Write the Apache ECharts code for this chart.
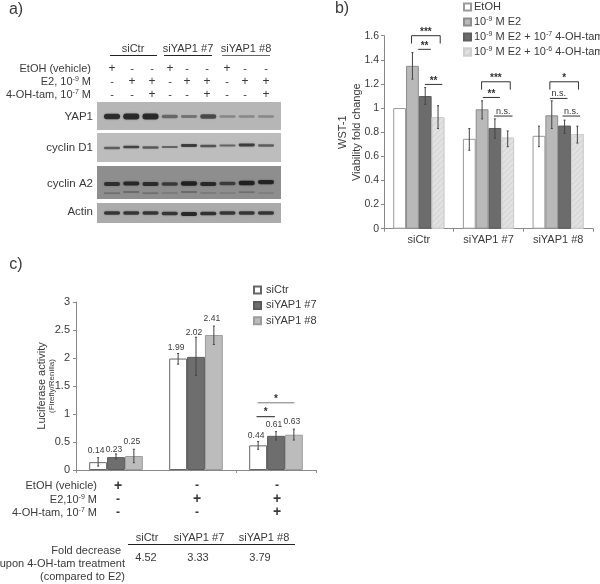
<!DOCTYPE html>
<html><head><meta charset="utf-8">
<style>html,body{margin:0;padding:0;background:#fff}#c{width:600px;height:584px}</style>
<script src="https://cdn.jsdelivr.net/npm/echarts@6/dist/echarts.min.js"></script>
</head><body><div id="c"></div>
<script>
// ---- Panel a data ----
const laneGroups = ['siCtr', 'siYAP1 #7', 'siYAP1 #8'];
const treatEtOH = ['+','-','-','+','-','-','+','-','-'];
const treatE2   = ['-','+','+','-','+','+','-','+','+'];
const treatTam  = ['-','-','+','-','-','+','-','-','+'];
const yap1Bands    = [0.95,1,1,0.42,0.32,0.68,0.18,0.16,0.16];
const cyclinD1Bands= [0.6,0.85,0.65,0.55,0.9,0.7,0.55,0.9,0.6];
const cyclinA2Bands= [0.8,0.9,0.85,0.7,1,0.9,0.65,1,0.95];
const cyclinA2Lower= [0.3,0.35,0.3,0.2,0.35,0.2,0.15,0.3,0.12];
const actinBands   = [0.85,0.85,0.85,0.85,1,0.9,0.85,0.85,0.85];
// ---- Panel b data ----
const bCategories = ['siCtr','siYAP1 #7','siYAP1 #8'];
const bEtOH = [1,0.745,0.77];
const bE2   = [1.35,0.99,0.94];
const bTam7 = [1.10,0.835,0.855];
const bTam6 = [0.925,0.755,0.785];
const bLow  = [[null,0.65,0.68],[1.24,0.91,0.83],[1.03,0.75,0.79],[0.83,0.68,0.71]];
const bHigh = [[null,0.83,0.85],[1.46,1.06,1.06],[1.17,0.91,0.90],[1.02,0.81,0.85]];
// category, from bar, to bar, height, bracket drop, label
const bSignif = [
 [0,1.43,3.67,1.6,0.065,'***'],[0,1.95,2.94,1.487,0,'**'],[0,2.47,3.83,1.196,0,'**'],
 [1,1.46,3.70,1.218,0.065,'***'],[1,1.56,2.89,1.088,0,'**'],[1,2.42,3.88,0.934,0,'n.s.'],
 [2,1.35,3.59,1.218,0.065,'*'],[2,1.35,2.73,1.08,0,'n.s.'],[2,2.34,3.72,0.934,0,'n.s.']];
// ---- Panel c data ----
const cCategories = ['EtOH','E2','E2 + 4-OH-tam'];
const cCtr = [0.14,1.99,0.44];
const cY7  = [0.23,2.02,0.61];
const cY8  = [0.25,2.41,0.63];
const cLow  = [[0.07,1.89,0.37],[0.196,1.69,0.535],[0.13,2.24,0.535]];
const cHigh = [[0.22,2.08,0.51],[0.286,2.37,0.685],[0.37,2.57,0.73]];
const cLabelY=[[0.34,2.18,0.61],[0.37,2.45,0.81],[0.51,2.71,0.87]];
const cSignif = [[2,0.41,1.44,0.952,'*','#222'],[2,0.47,2.53,1.2,'*','#777']];
const cRowEtOH = ['+','-','-'];
const cRowE2   = ['-','+','+'];
const cRowTam  = ['-','-','+'];
const foldHeaders = ['siCtr','siYAP1 #7','siYAP1 #8'];
const foldValues  = ['4.52','3.33','3.79'];

const FONT = '"Liberation Sans", Arial, sans-serif';
const TXT = '#3a3a3a';
const chart = echarts.init(document.getElementById('c'), null, {renderer:'canvas'});

function barGeom(api, cat, pos, n, gap){
  const cw = api.size([1,0])[0], group = cw*(1-gap), bw = group/n;
  return api.coord([cat,0])[0] - group/2 + pos*bw;
}
function errorSeries(low, high, n, gap, xi, yi){
  const rows=[];
  low.forEach((arr,s)=>arr.forEach((v,c)=>{ if(v!=null) rows.push([c,s,v,high[s][c]]); }));
  return {type:'custom',xAxisIndex:xi,yAxisIndex:yi,z:5,silent:true,data:rows,encode:{x:0,y:3},
    renderItem(p,api){
      const c=api.value(0),s=api.value(1);
      const x=barGeom(api,c,s+0.5,n,gap);
      const y1=api.coord([c,api.value(2)])[1],y2=api.coord([c,api.value(3)])[1];
      const st={stroke:'#444',lineWidth:1};
      return {type:'group',children:[
        {type:'line',shape:{x1:x,y1:y1,x2:x,y2:y2},style:st},
        {type:'line',shape:{x1:x-1,y1:y1,x2:x+1,y2:y1},style:st},
        {type:'line',shape:{x1:x-1,y1:y2,x2:x+1,y2:y2},style:st}]};
    }};
}
const blotRows = [
  {bands:yap1Bands, y:14.5, off:[0,0,0,0,0,0,0,0,0], base:1.6, k:4.2, a:0.85},
  {bands:cyclinD1Bands, y:45, off:[1,0,0.5,0,-1.5,-1,-1.5,-2,-1.5], base:1.2, k:1.8, a:0.78},
  {bands:cyclinA2Bands, y:82, off:[0,-0.5,0,0,-0.5,0,-0.5,-1,-2], base:1.4, k:3, a:0.9},
  {bands:cyclinA2Lower, y:91, off:[0,-1,0,0,-1,0,0,-1,0], base:0.8, k:1.5, a:0.75},
  {bands:actinBands, y:111, off:[0,0,0,0.5,1,0.5,0,0,0], base:1.4, k:2.6, a:0.85}
];
const blotPanels=[[0,28,'#b6b6b6'],[31,60,'#bdbdbd'],[64,97,'#8e8e8e'],[101,121,'#ababab']];
const blotData=[];
blotRows.forEach((r,ri)=>r.bands.forEach((v,l)=>blotData.push([l,r.y+r.off[l],v,ri])));

function sup(a,b,c){return a+'{s|'+b+'}'+c;}
const supRich={s:{fontSize:7,fontFamily:FONT,fill:TXT,color:TXT,padding:[0,0,5,0]}};
function T(text,x,y,o){return {type:'text',x,y,silent:true,style:Object.assign({text,fontFamily:FONT,fontSize:11,fill:TXT,
   textAlign:'center',textVerticalAlign:'middle',rich:supRich},o||{})};}
function L(x1,x2,y,c){return {type:'line',silent:true,shape:{x1,y1:y,x2,y2:y},style:{stroke:c||'#222',lineWidth:1}};}

const g=[];
g.push(T('a)',16,10,{fontSize:16}),T('b)',342,9,{fontSize:16}),T('c)',16,265,{fontSize:16}));
[[133,110,157,'#222'],[188,164,212,'#222'],[246,222,270,'#666']].forEach((h,i)=>{
  g.push(T(laneGroups[i],h[0],49,{fontSize:11}),L(h[1],h[2],55.5,h[3]));});
g.push(T('EtOH (vehicle)',91,69,{textAlign:'right'}),
       T(sup('E2, 10','-9',' M'),91,82,{textAlign:'right'}),
       T(sup('4-OH-tam, 10','-7',' M'),91,95,{textAlign:'right'}));
const laneX=[112,132,152,170,187,207,227,245,266];
[[treatEtOH,69],[treatE2,82],[treatTam,95]].forEach(r=>r[0].forEach((m,i)=>g.push(T(m,laneX[i],r[1]-0.5,{fontSize:m==='+'?12:11}))));
[['YAP1',117],['cyclin D1',148],['cyclin A2',184],['Actin',212]].forEach(r=>g.push(T(r[0],93,r[1],{textAlign:'right',fontSize:11.5})));
g.push(T('EtOH (vehicle)',97,486,{textAlign:'right'}),
       T(sup('E2,10','-9',' M'),97,499.5,{textAlign:'right'}),
       T(sup('4-OH-tam, 10','-7',' M'),97,513,{textAlign:'right'}));
[[cRowEtOH,486],[cRowE2,499.5],[cRowTam,512.5]].forEach(r=>r[0].forEach((m,i)=>g.push(T(m,[118,197,277][i],r[1],{fontSize:m==='+'?14:12,fontWeight:'bold'}))));
foldHeaders.forEach((t,i)=>g.push(T(t,[147,199,264][i],538)));
g.push(L(128,295,544.5));
foldValues.forEach((t,i)=>g.push(T(t,[146,198,260][i],558)));
g.push(T('Fold decrease',121,551,{textAlign:'right'}),T('upon 4-OH-tam treatment',125,564,{textAlign:'right'}),T('(compared to E2)',125,577,{textAlign:'right'}));

const axisLine={show:true,lineStyle:{color:'#8a8a8a',width:1}};
function bar(name,data,xi,yi,fill,border,gap){
  return {type:'bar',name,data,xAxisIndex:xi,yAxisIndex:yi,barGap:0,barCategoryGap:gap,
    itemStyle:{color:fill,borderColor:border,borderWidth:1},silent:true};
}
const hatch={symbol:'rect',symbolSize:1,dashArrayX:[1,0],dashArrayY:[1.5,2],rotation:-Math.PI/4,color:'rgba(255,255,255,0.25)'};
const bNames=['EtOH','10-9 M E2','10-9 M E2 + 10-7 4-OH-tam','10-9 M E2 + 10-6 4-OH-tam'];
const bFmt={'EtOH':'EtOH','10-9 M E2':'10{s|-9} M E2','10-9 M E2 + 10-7 4-OH-tam':'10{s|-9} M E2 + 10{s|-7} 4-OH-tam','10-9 M E2 + 10-6 4-OH-tam':'10{s|-9} M E2 + 10{s|-6} 4-OH-tam'};

const option={
 animation:false,backgroundColor:'#fff',textStyle:{fontFamily:FONT,color:TXT},
 grid:[
  {left:97,top:102,width:184,height:121},
  {left:384,top:35.7,width:209,height:193},
  {left:76,top:302,width:240,height:168}],
 xAxis:[
  {gridIndex:0,type:'value',min:-0.78,max:8.78,show:false},
  {gridIndex:1,type:'category',data:bCategories,axisLine,axisTick:{show:true,lineStyle:{color:'#8a8a8a'},length:3},
   axisLabel:{color:TXT,fontSize:11,margin:6,fontFamily:FONT}},
  {gridIndex:2,type:'category',data:cCategories,axisLine,axisTick:{show:true,lineStyle:{color:'#8a8a8a'},length:3},axisLabel:{show:false}}],
 yAxis:[
  {gridIndex:0,type:'value',min:0,max:121,inverse:true,show:false},
  {gridIndex:1,type:'value',min:0,max:1.6,interval:0.2,splitLine:{show:false},axisLine,
   axisTick:{show:true,length:3,lineStyle:{color:'#8a8a8a'}},axisLabel:{color:TXT,fontSize:10.5,margin:5,fontFamily:FONT},
   name:'WST-1\nViability fold change',nameLocation:'middle',nameGap:20,nameMoveOverlap:false,nameTextStyle:{color:TXT,fontSize:11,lineHeight:14,fontFamily:FONT}},
  {gridIndex:2,type:'value',min:0,max:3,interval:0.5,splitLine:{show:false},axisLine,
   axisTick:{show:true,length:3,lineStyle:{color:'#8a8a8a'}},axisLabel:{color:TXT,fontSize:11,margin:6,fontFamily:FONT},
   name:'{a|Luciferase activity}\n{b|(Firefly/Renilla)}',nameLocation:'middle',nameGap:19,nameMoveOverlap:false,
   nameTextStyle:{color:TXT,fontFamily:FONT,rich:{a:{fontSize:11,color:TXT,lineHeight:11,fontFamily:FONT},b:{fontSize:8,color:TXT,lineHeight:10,fontFamily:FONT}}}}],
 legend:[
  {data:bNames.map(name=>({name,icon:'rect'})),orient:'vertical',left:463,top:1,itemWidth:7,itemHeight:7,itemGap:3,padding:0,selectedMode:false,
   formatter:n=>bFmt[n],textStyle:{fontSize:11,color:TXT,fontFamily:FONT,lineHeight:12,padding:[0,0,0,-2],rich:{s:{fontSize:7,color:TXT,padding:[0,0,5,0],fontFamily:FONT}}}},
  {data:['siCtr','siYAP1 #7','siYAP1 #8'].map(name=>({name,icon:'rect'})),orient:'vertical',left:253,top:284,itemWidth:7,itemHeight:7,itemGap:3.4,padding:0,selectedMode:false,
   textStyle:{fontSize:11,color:TXT,fontFamily:FONT,lineHeight:12}}],
 graphic:{elements:g},
 series:[
  {type:'custom',xAxisIndex:0,yAxisIndex:0,silent:true,z:2,data:blotData,encode:{x:0,y:1},
   renderItem(p,api){
     const l=api.value(0),yv=api.value(1),v=api.value(2),r=blotRows[api.value(3)];
     const c=api.coord([l,yv]);
     const xs=api.size([1,0])[0];
     const h=r.base+r.k*v;
     const w=xs*0.84;
     return {type:'rect',shape:{x:c[0]-w/2,y:c[1]-h/2,width:w,height:h,r:h/2},
       style:{fill:'rgba(25,25,25,'+(r.a*(0.2+0.8*v)).toFixed(2)+')',shadowBlur:2,shadowColor:'rgba(30,30,30,'+(0.45*v).toFixed(2)+')'}};
   }},
  {type:'custom',xAxisIndex:0,yAxisIndex:0,silent:true,z:1,data:blotPanels,encode:{y:[0,1]},
   renderItem(p,api){
     const i=p.dataIndex,rc=p.coordSys;
     const y1=api.coord([0,api.value(0)])[1],y2=api.coord([0,api.value(1)])[1];
     return {type:'rect',shape:{x:rc.x,y:y1,width:rc.width,height:y2-y1},style:{fill:blotPanels[i][2]}};
   }},
  bar(bNames[0],bEtOH,1,1,'#ffffff','#9a9a9a','26.5%'),
  bar(bNames[1],bE2,1,1,'#b9b9b9','#8d8d8d','26.5%'),
  bar(bNames[2],bTam7,1,1,'#6c6c6c','#5e5e5e','26.5%'),
  {...bar(bNames[3],bTam6,1,1,'#d9d9d9','#cfcfcf','26.5%'),itemStyle:{color:'#d9d9d9',borderColor:'#cfcfcf',borderWidth:1,decal:hatch}},
  errorSeries(bLow,bHigh,4,0.265,1,1),
  {type:'custom',xAxisIndex:1,yAxisIndex:1,silent:true,z:6,data:bSignif.map(r=>[r[0],r[3]]),encode:{x:0,y:1},
   renderItem(p,api){
     const r=bSignif[p.dataIndex];
     const x1=barGeom(api,r[0],r[1],4,0.265),x2=barGeom(api,r[0],r[2],4,0.265);
     const y=api.coord([r[0],r[3]])[1],y2=api.coord([r[0],r[3]-r[4]])[1];
     const st={stroke:'#333',lineWidth:1};
     const ch=[{type:'line',shape:{x1,y1:y,x2,y2:y},style:st}];
     if(r[4]>0){ch.push({type:'line',shape:{x1,y1:y,x2:x1,y2},style:st},{type:'line',shape:{x1:x2,y1:y,x2,y2},style:st});}
     const ns=r[5]==='n.s.';
     ch.push({type:'text',x:(x1+x2)/2,y:y-(ns?4.5:3.5),style:{text:r[5],fontFamily:FONT,fontSize:ns?9:10,fontWeight:ns?'normal':'bold',fill:'#333',textAlign:'center',textVerticalAlign:'middle'}});
     return {type:'group',children:ch};
   }},
  bar('siCtr',cCtr,2,2,'#ffffff','#666666','33%'),
  bar('siYAP1 #7',cY7,2,2,'#6e6e6e','#5a5a5a','33%'),
  bar('siYAP1 #8',cY8,2,2,'#bcbcbc','#9c9c9c','33%'),
  errorSeries(cLow,cHigh,3,0.33,2,2),
  {type:'custom',xAxisIndex:2,yAxisIndex:2,silent:true,z:6,
   data:[cCtr,cY7,cY8].flatMap((a,s)=>a.map((v,c)=>[c,s,cLabelY[s][c],v])),encode:{x:0,y:2},
   renderItem(p,api){
     const c=api.value(0),s=api.value(1);
     const x=barGeom(api,c,s+0.5,3,0.33),y=api.coord([c,api.value(2)])[1];
     return {type:'text',x:x-2,y,style:{text:api.value(3).toFixed(2),fontFamily:FONT,fontSize:8.5,fill:TXT,textAlign:'center',textVerticalAlign:'middle'}};
   }},
  {type:'custom',xAxisIndex:2,yAxisIndex:2,silent:true,z:6,data:cSignif.map(r=>[r[0],r[3]]),encode:{x:0,y:1},
   renderItem(p,api){
     const r=cSignif[p.dataIndex];
     const x1=barGeom(api,r[0],r[1],3,0.33),x2=barGeom(api,r[0],r[2],3,0.33),y=api.coord([r[0],r[3]])[1];
     return {type:'group',children:[
       {type:'line',shape:{x1,y1:y,x2,y2:y},style:{stroke:r[5],lineWidth:1}},
       {type:'text',x:(x1+x2)/2,y:y-4,style:{text:r[4],fontFamily:FONT,fontSize:10,fontWeight:'bold',fill:'#333',textAlign:'center',textVerticalAlign:'middle'}}]};
   }}
 ]};
chart.setOption(option);
</script></body></html>
